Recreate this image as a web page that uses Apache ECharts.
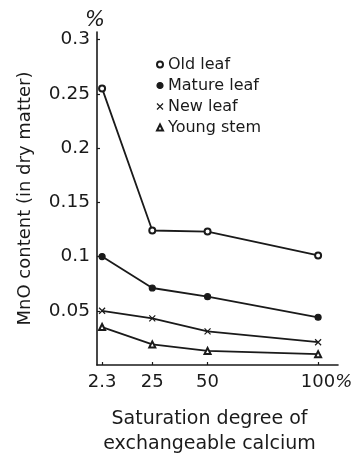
<!DOCTYPE html>
<html><head><meta charset="utf-8">
<script src="https://cdn.jsdelivr.net/npm/echarts@6/dist/echarts.min.js"></script>
<style>html,body{margin:0;padding:0;background:#fff}#c{width:361px;height:453px}</style>
</head><body><div id="c"></div>
<script>
const xValues = [2.3, 25, 50, 100];
const xTickLabels = ['2.3', '25', '50', '100%'];
const yTickValues = [0.05, 0.1, 0.15, 0.2, 0.25, 0.3];
const yTickLabels = ['0.05', '0.1', '0.15', '0.2', '0.25', '0.3'];
const seriesNames = ['Old leaf', 'Mature leaf', 'New leaf', 'Young stem'];
const oldLeaf = [0.255, 0.124, 0.123, 0.101];
const matureLeaf = [0.100, 0.071, 0.063, 0.044];
const newLeaf = [0.050, 0.043, 0.031, 0.021];
const youngStem = [0.035, 0.019, 0.013, 0.010];

const FONT = 'DejaVu Sans';
const INK = '#1a1a1a';
const xPath = 'path://M0,0L10,10M10,0L0,10';
const symbols = ['emptyCircle', 'circle', xPath, 'emptyTriangle'];
const allData = [oldLeaf, matureLeaf, newLeaf, youngStem];

const chart = echarts.init(document.getElementById('c'), null, {renderer: 'canvas'});
chart.setOption({
  animation: false,
  backgroundColor: '#fff',
  textStyle: {fontFamily: FONT, color: INK},
  grid: {left: 97, right: 23, top: 32, bottom: 88, containLabel: false, outerBoundsMode: 'none'},
  legend: {
    orient: 'vertical', left: 151, top: 51,
    itemWidth: 6, itemHeight: 6, itemGap: 4,
    textStyle: {fontFamily: FONT, fontSize: 16, color: INK, lineHeight: 17},
    data: seriesNames.map((n, i) => ({name: n, icon: symbols[i]})),
    itemStyle: {borderWidth: 1.2}
  },
  xAxis: {
    type: 'value', min: 0, max: 109,
    splitLine: {show: false},
    axisLine: {lineStyle: {color: INK, width: 1.6}},
    axisTick: {show: true, inside: true, length: 3, customValues: xValues, lineStyle: {color: INK, width: 1.2}},
    axisLabel: {
      customValues: xValues, margin: 8, fontSize: 18, fontFamily: FONT, color: INK,
      formatter: v => {
        const i = xValues.indexOf(v);
        if (i === 3) return '{s|}100{p|%}';
        return i >= 0 ? xTickLabels[i] : '';
      },
      rich: {s: {width: 17, fontSize: 18}, p: {fontSize: 18, fontStyle: 'italic', fontFamily: FONT, color: INK}}
    },
    name: 'Saturation degree of\nexchangeable calcium',
    nameLocation: 'middle', nameGap: 42,
    nameTextStyle: {fontSize: 19, lineHeight: 25, fontFamily: FONT, color: INK, padding: [0, 16, 0, 0]}
  },
  yAxis: {
    type: 'value', min: 0, max: 0.307,
    splitLine: {show: false},
    axisLine: {show: true, lineStyle: {color: INK, width: 1.6}},
    axisTick: {show: true, inside: true, length: 3, customValues: yTickValues, lineStyle: {color: INK, width: 1.2}},
    axisLabel: {
      customValues: yTickValues, margin: 7, fontSize: 18.5, fontFamily: FONT, color: INK,
      formatter: v => {
        const i = yTickValues.findIndex(t => Math.abs(t - v) < 1e-9);
        return i >= 0 ? yTickLabels[i] : '';
      }
    },
    name: 'MnO content (in dry matter)',
    nameLocation: 'middle', nameGap: 63,
    nameTextStyle: {fontSize: 18, fontFamily: FONT, color: INK}
  },
  graphic: [{
    type: 'text', left: 85, top: 10,
    style: {text: '%', font: 'italic 21px "DejaVu Sans"', fill: INK}
  }],
  series: seriesNames.map((n, i) => ({
    name: n, type: 'line',
    data: xValues.map((x, j) => [x, allData[i][j]]),
    symbol: symbols[i],
    symbolSize: 6,
    showSymbol: true,
    lineStyle: {color: INK, width: 1.8},
    itemStyle: {color: INK, borderColor: INK, borderWidth: 1.2},
    z: 3
  }))
});
</script></body></html>
